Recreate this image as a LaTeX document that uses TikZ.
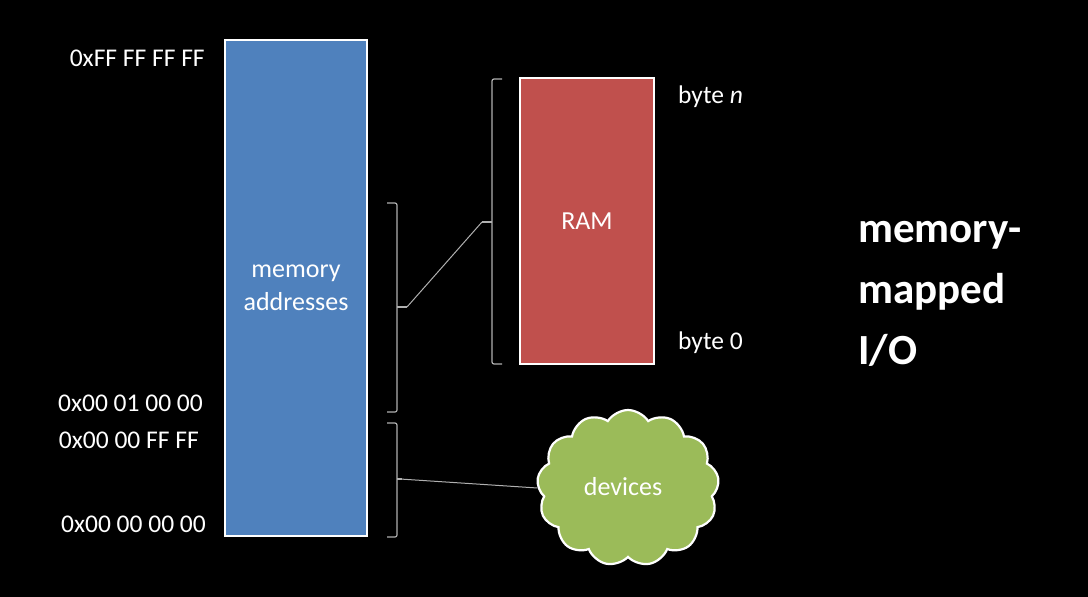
\documentclass[tikz,border=0pt]{standalone}
\usepackage{fontspec}
\setmainfont{Carlito}
\usetikzlibrary{shapes.symbols}
\definecolor{memblue}{HTML}{4F81BD}
\definecolor{ramred}{HTML}{C0504D}
\definecolor{devgreen}{HTML}{9BBB59}
\definecolor{brk}{HTML}{B0B0B0}
\begin{document}
\begin{tikzpicture}[x=1pt,y=-1pt,
  lbl/.style={text=white,font=\fontsize{25.5}{30}\selectfont,inner sep=0pt},
  box/.style={draw=white,line width=2.2pt,inner sep=0pt,align=center,text=white,font=\fontsize{26}{33}\selectfont},
  bracket/.style={draw=brk,line width=1.2pt,rounded corners=2pt},
  link/.style={draw=brk,line width=1pt}]
\fill[black] (0,0) rectangle (1088,597);
\useasboundingbox (0,0) rectangle (1088,597);

\node[box,fill=memblue,minimum width=142,minimum height=496] (mem) at (296,288) {memory\\addresses};
\node[box,fill=ramred,minimum width=134,minimum height=286] (ram) at (587,221) {RAM};
\node[cloud,cloud puffs=13,cloud puff arc=115,aspect=1.15,draw=white,line width=2.2pt,fill=devgreen,
  minimum width=182,minimum height=156] (dev) at (628,488) {};
\node[text=white,font=\fontsize{26}{31}\selectfont] (devtxt) at (623,487) {devices};

\node[lbl,anchor=east] (a1) at (205,58) {0xFF FF FF FF};
\node[lbl,anchor=east] (a2) at (203,403) {0x00 01 00 00};
\node[lbl,anchor=east] (a3) at (199,440) {0x00 00 FF FF};
\node[lbl,anchor=east] (a4) at (206,524) {0x00 00 00 00};
\node[lbl,anchor=west] (bn) at (678,97) {byte \textit{n}};
\node[lbl,anchor=west] (b0) at (678,343) {byte 0};

\node[text=white,font=\bfseries\fontsize{43}{61}\selectfont,align=left,anchor=west,inner sep=0pt] (title) at (858,294) {memory-\\mapped\\I/O};

% upper bracket on memory
\draw[bracket] (387,203) -- (397,203) -- (397,412) -- (387,412);
\draw[bracket] (397,307) -- (407,307);
\coordinate (uptip) at (407,307);
% RAM bracket
\draw[bracket] (502,79) -- (492,79) -- (492,364) -- (502,364);
\draw[bracket] (492,222) -- (482,222);
\coordinate (ramtip) at (482,222);
% lower bracket
\draw[bracket] (387,423) -- (397,423) -- (397,537) -- (387,537);
\draw[bracket] (397,479) -- (402,479);
\coordinate (lowtip) at (400,479);

\draw[link] (uptip) -- (ramtip);
\draw[link] (lowtip) -- (dev.west);
\end{tikzpicture}
\end{document}
